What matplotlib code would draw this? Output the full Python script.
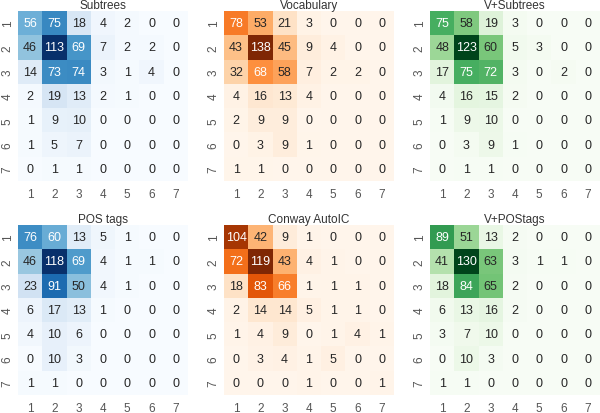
import matplotlib
matplotlib.use("Agg")
import matplotlib.pyplot as plt
import numpy as np
import seaborn as sns

labels = [1, 2, 3, 4, 5, 6, 7]

subtrees = [[56, 75, 18, 4, 2, 0, 0],
            [46, 113, 69, 7, 2, 2, 0],
            [14, 73, 74, 3, 1, 4, 0],
            [2, 19, 13, 2, 1, 0, 0],
            [1, 9, 10, 0, 0, 0, 0],
            [1, 5, 7, 0, 0, 0, 0],
            [0, 1, 1, 0, 0, 0, 0]]

vocabulary = [[78, 53, 21, 3, 0, 0, 0],
              [43, 138, 45, 9, 4, 0, 0],
              [32, 68, 58, 7, 2, 2, 0],
              [4, 16, 13, 4, 0, 0, 0],
              [2, 9, 9, 0, 0, 0, 0],
              [0, 3, 9, 1, 0, 0, 0],
              [1, 1, 0, 0, 0, 0, 0]]

v_subtrees = [[75, 58, 19, 3, 0, 0, 0],
              [48, 123, 60, 5, 3, 0, 0],
              [17, 75, 72, 3, 0, 2, 0],
              [4, 16, 15, 2, 0, 0, 0],
              [1, 9, 10, 0, 0, 0, 0],
              [0, 3, 9, 1, 0, 0, 0],
              [0, 1, 1, 0, 0, 0, 0]]

pos_tags = [[76, 60, 13, 5, 1, 0, 0],
            [46, 118, 69, 4, 1, 1, 0],
            [23, 91, 50, 4, 1, 0, 0],
            [6, 17, 13, 1, 0, 0, 0],
            [4, 10, 6, 0, 0, 0, 0],
            [0, 10, 3, 0, 0, 0, 0],
            [1, 1, 0, 0, 0, 0, 0]]

conway = [[104, 42, 9, 1, 0, 0, 0],
          [72, 119, 43, 4, 1, 0, 0],
          [18, 83, 66, 1, 1, 1, 0],
          [2, 14, 14, 5, 1, 1, 0],
          [1, 4, 9, 0, 1, 4, 1],
          [0, 3, 4, 1, 5, 0, 0],
          [0, 0, 0, 1, 0, 0, 1]]

v_postags = [[89, 51, 13, 2, 0, 0, 0],
             [41, 130, 63, 3, 1, 1, 0],
             [18, 84, 65, 2, 0, 0, 0],
             [6, 13, 16, 2, 0, 0, 0],
             [3, 7, 10, 0, 0, 0, 0],
             [0, 10, 3, 0, 0, 0, 0],
             [1, 1, 0, 0, 0, 0, 0]]

titles = ["Subtrees", "Vocabulary", "V+Subtrees", "POS tags", "Conway AutoIC", "V+POStags"]
mats = [subtrees, vocabulary, v_subtrees, pos_tags, conway, v_postags]
cmaps = ["Blues", "Oranges", "Greens", "Blues", "Oranges", "Greens"]

sns.set_style("white")
plt.rcParams["font.family"] = ["Liberation Sans", "DejaVu Sans"]

fig = plt.figure(figsize=(6, 4.14), dpi=100)
lefts = [0.03, 0.3733, 0.7167]
bottoms = [0.5604, 0.0435]
w, h = 0.2833, 0.4106

for i in range(6):
    ax = fig.add_axes([lefts[i % 3], bottoms[i // 3], w, h])
    sns.heatmap(np.array(mats[i]), annot=True, fmt="d", cmap=cmaps[i], cbar=False,
                xticklabels=labels, yticklabels=labels, ax=ax,
                annot_kws={"fontsize": 9})
    ax.set_title(titles[i], fontsize=8.5, color="#333333", pad=2)
    ax.tick_params(length=0, labelsize=8.5, colors="#555555")
    ax.tick_params(axis="x", pad=5)
    ax.tick_params(axis="y", pad=3)
    plt.setp(ax.get_yticklabels(), rotation=90, va="center")
    plt.setp(ax.get_xticklabels(), rotation=0)

fig.savefig("out.png", dpi=100)
